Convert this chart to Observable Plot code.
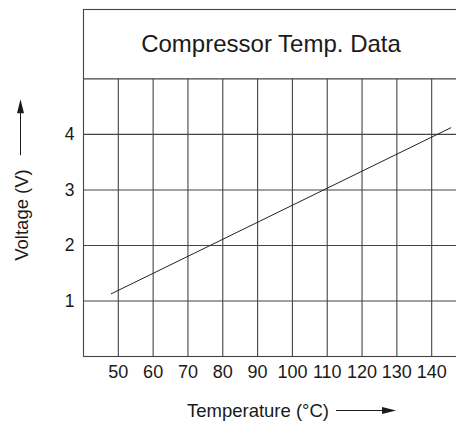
<!DOCTYPE html>
<html><head><meta charset="utf-8">
<script src="https://cdn.jsdelivr.net/npm/d3@7"></script>
<script src="https://cdn.jsdelivr.net/npm/@observablehq/plot@0.6"></script>
<style>html,body{margin:0;padding:0;overflow:hidden;background:#fff}</style>
</head><body><div id="chart"></div>
<script>
// Data
const temps = [48, 145.5];          // °C, ends of the straight line
const volts = [1.13, 4.12];         // V
const xTicks = [50, 60, 70, 80, 90, 100, 110, 120, 130, 140];
const yTicks = [1, 2, 3, 4];
const xDomain = [40, 150];
const yDomain = [0, 6.25];
const gridTop = 5;                  // top of the grid / bottom of the title box
const title = "Compressor Temp. Data";
const xLabel = "Temperature (°C)";
const yLabel = "Voltage (V)";

const data = temps.map((t, i) => ({t, v: volts[i]}));
const FONT = "'Liberation Sans', Arial, Helvetica, sans-serif";
const INK = "#1a1a1a";
const GRID = "#444";

const plot = Plot.plot({
  width: 466, height: 425,
  marginLeft: 83, marginRight: 0, marginTop: 9, marginBottom: 69,
  style: {fontFamily: FONT, color: INK, background: "#fff", overflow: "visible", maxWidth: "none"},
  x: {domain: xDomain},
  y: {domain: yDomain},
  marks: [
    Plot.ruleX(xTicks, {y1: 0, y2: gridTop, stroke: GRID, strokeWidth: 1.1}),
    Plot.ruleY(yTicks, {x1: xDomain[0], x2: xDomain[1], stroke: GRID, strokeWidth: 1.1}),
    Plot.ruleY([gridTop], {stroke: GRID, strokeWidth: 1.1}),
    Plot.frame({stroke: GRID, strokeWidth: 1.1}),
    Plot.line(data, {x: "t", y: "v", stroke: "#222", strokeWidth: 1}),
    Plot.text([title], {y: () => (gridTop + yDomain[1]) / 2, text: d => d, frameAnchor: "middle", dx: -4, fontSize: 24, fill: INK}),
    Plot.axisX(xTicks, {tickSize: 0, tickPadding: 9, fontSize: 18, label: null, fill: INK, tickFormat: d => String(d)}),
    Plot.axisY(yTicks, {tickSize: 0, tickPadding: 9, fontSize: 17.5, label: null, fill: INK, tickFormat: d => String(d)})
  ]
});
document.getElementById("chart").appendChild(plot);

// Axis titles with long arrows, placed in the margins
const svg = d3.select(plot);
const LABEL_FS = 18.5;
const yCx = 215;
const yl = svg.append("text")
  .attr("transform", `translate(28,${yCx}) rotate(-90)`)
  .attr("text-anchor", "middle")
  .attr("font-family", FONT).attr("font-size", LABEL_FS).attr("fill", INK)
  .text(yLabel);
const yb = yl.node().getBBox();
const yTopPix = yCx - yb.width / 2 - 14;
svg.append("line").attr("x1", 20.5).attr("x2", 20.5).attr("y1", yTopPix).attr("y2", yTopPix - 44)
  .attr("stroke", INK).attr("stroke-width", 1);
svg.append("path").attr("d", `M20.5,${yTopPix - 56} L17,${yTopPix - 42} L24,${yTopPix - 42} Z`).attr("fill", INK);

const xl = svg.append("text")
  .attr("x", 258).attr("y", 417)
  .attr("text-anchor", "middle")
  .attr("font-family", FONT).attr("font-size", LABEL_FS).attr("fill", INK)
  .text(xLabel);
const xb = xl.node().getBBox();
const ax0 = xb.x + xb.width + 7, ay = 410.5;
svg.append("line").attr("x1", ax0).attr("x2", ax0 + 48).attr("y1", ay).attr("y2", ay)
  .attr("stroke", INK).attr("stroke-width", 1);
svg.append("path").attr("d", `M${ax0 + 60},${ay} L${ax0 + 46},${ay - 3.5} L${ax0 + 46},${ay + 3.5} Z`).attr("fill", INK);
</script>
</body></html>
